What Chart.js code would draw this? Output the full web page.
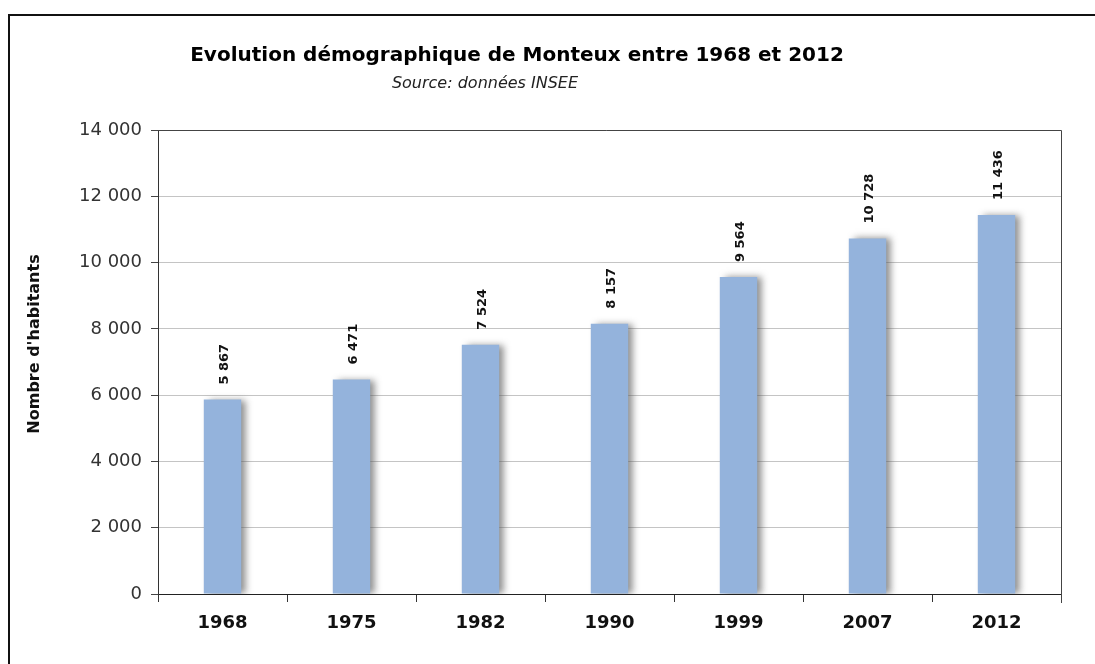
<!DOCTYPE html>
<html>
<head>
<meta charset="utf-8">
<script src="https://cdn.jsdelivr.net/npm/chart.js@4/dist/chart.umd.min.js"></script>
<style>
  html, body { margin: 0; padding: 0; background: #fff; }
  #wrap { width: 1095px; height: 664px; position: relative; }
</style>
</head>
<body>
<div id="wrap"><canvas id="popChart" width="1095" height="664"></canvas></div>
<script>
// Data
const years = ['1968', '1975', '1982', '1990', '1999', '2007', '2012'];
const habitants = [5867, 6471, 7524, 8157, 9564, 10728, 11436];
const yTicks = [0, 2000, 4000, 6000, 8000, 10000, 12000, 14000];

const titleText = 'Evolution démographique de Monteux entre 1968 et 2012';
const subtitleText = 'Source: données INSEE';
const yTitle = "Nombre d'habitants";

// French style thousands: 11 436
function fmt(n) {
    return String(n).replace(/\B(?=(\d{3})+(?!\d))/g, ' ');
}

const frame = {
    id: 'frame',
    beforeDraw(chart) {
        const ctx = chart.ctx;
        ctx.save();
        ctx.fillStyle = '#fff';
        ctx.fillRect(0, 0, chart.width, chart.height);
        // outer border (only top / left visible)
        ctx.strokeStyle = '#111';
        ctx.lineWidth = 2;
        ctx.beginPath();
        ctx.moveTo(9, chart.height + 5);
        ctx.lineTo(9, 15);
        ctx.lineTo(chart.width + 5, 15);
        ctx.stroke();
        // titles
        ctx.fillStyle = '#000';
        ctx.textAlign = 'center';
        ctx.textBaseline = 'middle';
        ctx.font = 'bold 20px "DejaVu Sans"';
        ctx.fillText(titleText, 517, 56);
        ctx.font = 'italic 16px "DejaVu Sans"';
        ctx.fillStyle = '#222';
        ctx.fillText(subtitleText, 485, 84);
        // y axis title
        ctx.save();
        ctx.translate(35, 344);
        ctx.rotate(-Math.PI / 2);
        ctx.font = 'bold 16px "DejaVu Sans"';
        ctx.fillStyle = '#111';
        ctx.fillText(yTitle, 0, 0);
        ctx.restore();
        ctx.restore();
    },
    afterDraw(chart) {
        const a = chart.chartArea;
        const ctx = chart.ctx;
        ctx.save();
        ctx.strokeStyle = '#444';
        ctx.lineWidth = 1;
        ctx.beginPath();
        ctx.moveTo(a.left - 7, a.top + 0.5);
        ctx.lineTo(a.right + 0.5, a.top + 0.5);
        ctx.lineTo(a.right + 0.5, a.bottom + 9);
        ctx.stroke();
        ctx.restore();
    }
};

const barShadow = {
    id: 'barShadow',
    beforeDatasetsDraw(chart) {
        const ctx = chart.ctx;
        ctx.save();
        ctx.shadowColor = 'rgba(80,80,80,0.65)';
        ctx.shadowBlur = 7;
        ctx.shadowOffsetX = 5;
        ctx.shadowOffsetY = 0;
    },
    afterDatasetsDraw(chart) {
        chart.ctx.restore();
    }
};

const valueLabels = {
    id: 'valueLabels',
    afterDatasetsDraw(chart) {
        const ctx = chart.ctx;
        const meta = chart.getDatasetMeta(0);
        ctx.save();
        ctx.font = 'bold 13px "DejaVu Sans"';
        ctx.fillStyle = '#111';
        ctx.textAlign = 'left';
        ctx.textBaseline = 'middle';
        meta.data.forEach((bar, i) => {
            ctx.save();
            ctx.translate(bar.x + 2, bar.y - 15);
            ctx.rotate(-Math.PI / 2);
            ctx.fillText(fmt(habitants[i]), 0, 0);
            ctx.restore();
        });
        ctx.restore();
    }
};

const ctx = document.getElementById('popChart').getContext('2d');
const chart = new Chart(ctx, {
    type: 'bar',
    data: {
        labels: years,
        datasets: [{
            label: yTitle,
            data: habitants,
            backgroundColor: '#94b3dc',
            borderWidth: 0,
            barPercentage: 0.29,
            categoryPercentage: 1
        }]
    },
    options: {
        responsive: false,
        animation: false,
        layout: { padding: { left: 8, right: 34, top: 130, bottom: 0 } },
        plugins: {
            legend: { display: false },
            tooltip: { enabled: false }
        },
        scales: {
            x: {
                grid: {
                    offset: true,
                    drawOnChartArea: false,
                    tickLength: 8,
                    tickColor: '#333'
                },
                border: { color: '#222', width: 1 },
                ticks: {
                    color: '#111',
                    font: { family: '"DejaVu Sans"', size: 18, weight: 'bold' },
                    padding: 11
                },
                afterFit(scale) { scale.height = 70; }
            },
            y: {
                min: 0,
                max: 14000,
                afterBuildTicks(scale) {
                    scale.ticks = yTicks.map(v => ({ value: v }));
                },
                grid: {
                    color: '#c4c4c4',
                    tickLength: 7,
                    tickColor: '#444'
                },
                border: { color: '#333', width: 1 },
                ticks: {
                    color: '#333',
                    font: { family: '"DejaVu Sans"', size: 18 },
                    padding: 9,
                    callback: v => fmt(v)
                },
                afterFit(scale) { scale.width = 150; }
            }
        }
    },
    plugins: [frame, barShadow, valueLabels]
});
</script>
</body>
</html>
